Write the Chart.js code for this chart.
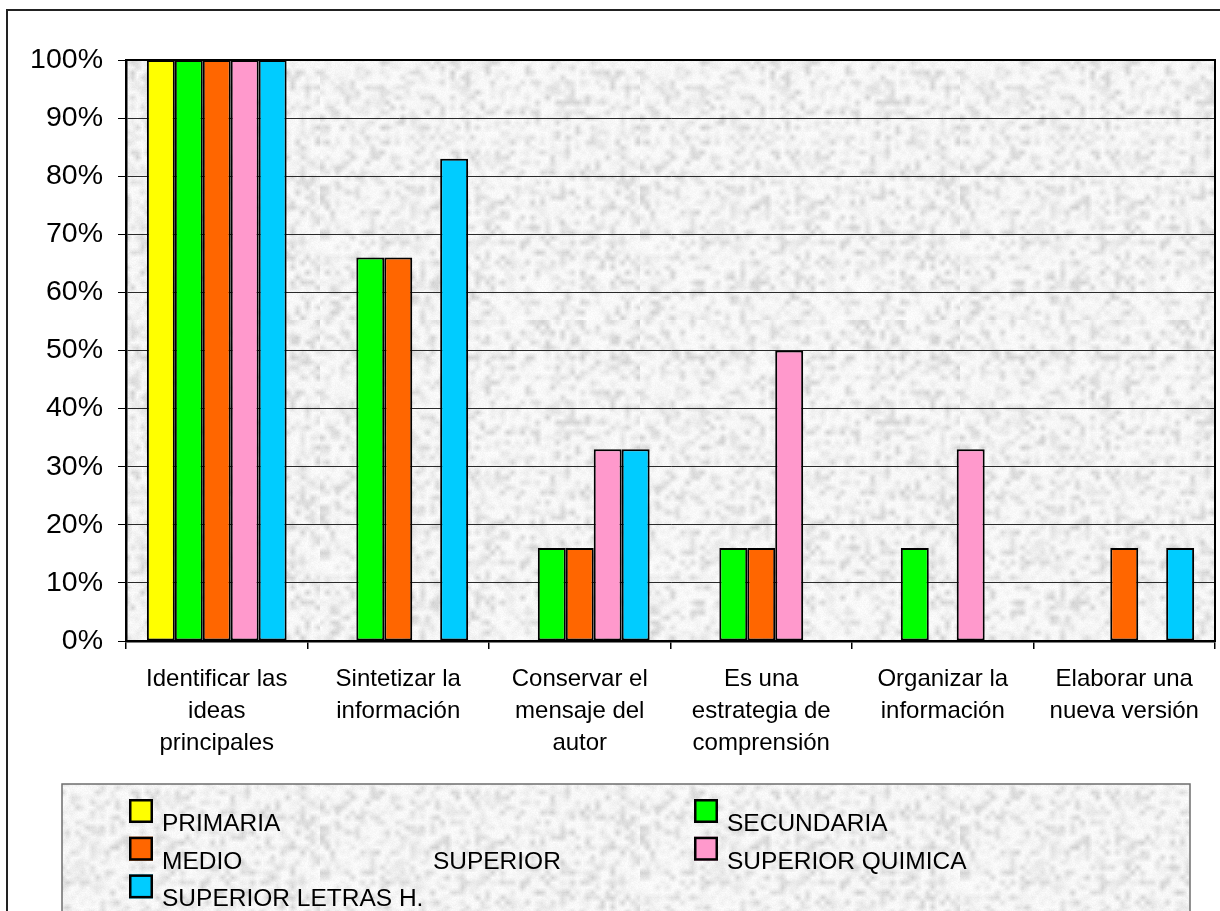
<!DOCTYPE html>
<html>
<head>
<meta charset="utf-8">
<script src="https://cdn.jsdelivr.net/npm/chart.js@4.4.1/dist/chart.umd.min.js"></script>
<style>
  html, body { margin: 0; padding: 0; background: #fff; }
  #wrap { position: relative; width: 1220px; height: 911px; overflow: hidden; }
</style>
</head>
<body>
<div id="wrap"><canvas id="grafico" width="1220" height="911"></canvas></div>
<script>
// categorías del eje X (una línea por elemento)
const categorias = [
  ['Identificar las', 'ideas', 'principales'],
  ['Sintetizar la', 'información'],
  ['Conservar el', 'mensaje del', 'autor'],
  ['Es una', 'estrategia de', 'comprensión'],
  ['Organizar la', 'información'],
  ['Elaborar una', 'nueva versión']
];

// porcentajes por nivel
const primaria        = [100, 0, 0, 0, 0, 0];
const secundaria      = [100, 66, 16, 16, 16, 0];
const medio           = [100, 66, 16, 16, 0, 16];
const superiorQuimica = [100, 0, 33, 50, 33, 0];
const superiorLetras  = [100, 83, 33, 0, 0, 16];

const nombresSeries = ['PRIMARIA', 'SECUNDARIA', 'MEDIO                            SUPERIOR', 'SUPERIOR QUIMICA', 'SUPERIOR LETRAS H.'];
const colores = ['#ffff00', '#00ff00', '#ff6600', '#ff99cc', '#00ccff'];
const ticksY = [0, 10, 20, 30, 40, 50, 60, 70, 80, 90, 100];

const FUENTE = "'Liberation Sans', Arial, sans-serif";

// textura gris clara tipo granito (sin costuras) para el fondo y la leyenda
function crearTextura() {
  let s = 987654321;
  const rnd = () => { s = (s * 1664525 + 1013904223) >>> 0; return s / 4294967296; };

  const N = 64, ESC = 5;
  const peq = document.createElement('canvas');
  peq.width = peq.height = N;
  const pg = peq.getContext('2d');
  const img = pg.createImageData(N, N);
  for (let i = 0; i < N * N; i++) {
    const r = rnd();
    const v = 250 - r * r * r * 42;
    img.data[i * 4] = img.data[i * 4 + 1] = img.data[i * 4 + 2] = v;
    img.data[i * 4 + 3] = 255;
  }
  pg.putImageData(img, 0, 0);

  // mosaico 3x3 ampliado y recortado al centro para que el patrón repita sin bordes
  const grande = document.createElement('canvas');
  grande.width = grande.height = N * 3 * ESC;
  const gg = grande.getContext('2d');
  gg.imageSmoothingEnabled = true;
  for (let i = 0; i < 3; i++)
    for (let j = 0; j < 3; j++)
      gg.drawImage(peq, i * N * ESC, j * N * ESC, N * ESC, N * ESC);

  const T = N * ESC;
  const c = document.createElement('canvas');
  c.width = c.height = T;
  const g = c.getContext('2d');
  g.drawImage(grande, T, T, T, T, 0, 0, T, T);

  const fino = g.getImageData(0, 0, T, T);
  for (let i = 0; i < T * T; i++) {
    const d = (rnd() - 0.5) * 8;
    for (let k = 0; k < 3; k++) fino.data[i * 4 + k] = Math.max(0, Math.min(255, fino.data[i * 4 + k] + d));
  }
  g.putImageData(fino, 0, 0);
  return c;
}
const textura = crearTextura();

const series = [primaria, secundaria, medio, superiorQuimica, superiorLetras];

// fondo: marco exterior y área de trazado texturizada
const fondoPlugin = {
  id: 'fondo',
  beforeDraw(chart) {
    const ctx = chart.ctx;
    const a = chart.chartArea;
    ctx.save();
    ctx.fillStyle = '#fff';
    ctx.fillRect(0, 0, chart.width, chart.height);
    ctx.strokeStyle = '#222';
    ctx.lineWidth = 2;
    ctx.strokeRect(7, 10, 1300, 1000);
    ctx.fillStyle = ctx.createPattern(textura, 'repeat');
    ctx.fillRect(a.left, a.top, a.right - a.left, a.bottom - a.top);
    ctx.restore();
  },
  afterDatasetsDraw(chart) {
    const ctx = chart.ctx;
    const a = chart.chartArea;
    ctx.save();
    ctx.strokeStyle = '#000';
    ctx.lineWidth = 2;
    ctx.strokeRect(a.left, a.top, a.right - a.left, a.bottom - a.top);
    ctx.restore();
  }
};

// leyenda en dos columnas dentro de un recuadro texturizado
const leyendaPlugin = {
  id: 'leyendaPropia',
  afterDraw(chart) {
    const ctx = chart.ctx;
    ctx.save();
    const bx = 62, by = 784, bw = 1128, bh = 200;
    ctx.fillStyle = ctx.createPattern(textura, 'repeat');
    ctx.fillRect(bx, by, bw, bh);
    ctx.strokeStyle = '#6e6e6e';
    ctx.lineWidth = 1.5;
    ctx.strokeRect(bx, by, bw, bh);

    const columnas = [129, 694];
    ctx.font = '24.5px ' + FUENTE;
    ctx.textBaseline = 'alphabetic';
    ctx.textAlign = 'left';
    chart.data.datasets.forEach((ds, i) => {
      const fila = Math.floor(i / 2);
      const col = i % 2;
      const x = columnas[col];
      const y = 799 + fila * 37.7;
      ctx.fillStyle = ds.backgroundColor;
      ctx.fillRect(x, y, 24, 24);
      ctx.strokeStyle = '#000';
      ctx.lineWidth = 2.5;
      ctx.strokeRect(x + 1.25, y + 1.25, 21.5, 21.5);
      ctx.fillStyle = '#000';
      ctx.fillText(ds.label, x + 33, y + 32);
    });
    ctx.restore();
  }
};

new Chart(document.getElementById('grafico'), {
  type: 'bar',
  data: {
    labels: categorias,
    datasets: series.map((vals, i) => ({
      label: nombresSeries[i],
      data: vals,
      backgroundColor: colores[i],
      borderColor: '#000',
      borderWidth: 2,
      borderSkipped: false,
      categoryPercentage: 0.77,
      barPercentage: 1
    }))
  },
  options: {
    responsive: false,
    animation: false,
    layout: { padding: { left: 0, top: 60, right: 5, bottom: 0 } },
    plugins: {
      legend: { display: false },
      tooltip: { enabled: false }
    },
    scales: {
      x: {
        afterFit: s => { s.height = 270; },
        grid: { drawOnChartArea: false, drawTicks: true, tickLength: 8, tickColor: '#000', lineWidth: 1.5 },
        border: { display: true, color: '#000', width: 2.5 },
        ticks: {
          color: '#000',
          font: { family: FUENTE, size: 24, lineHeight: 1.34 },
          padding: 14,
          maxRotation: 0,
          autoSkip: false
        }
      },
      y: {
        min: 0,
        max: 100,
        afterFit: s => { s.width = 126; },
        afterBuildTicks: s => { s.ticks = ticksY.map(v => ({ value: v })); },
        grid: { color: '#2a2a2a', lineWidth: 1, drawTicks: true, tickLength: 8, tickColor: '#000' },
        border: { display: true, color: '#000', width: 2.5 },
        ticks: {
          color: '#000',
          font: { family: FUENTE, size: 28.5 },
          padding: 15,
          callback: v => v + '%'
        }
      }
    }
  },
  plugins: [fondoPlugin, leyendaPlugin]
});
</script>
</body>
</html>
